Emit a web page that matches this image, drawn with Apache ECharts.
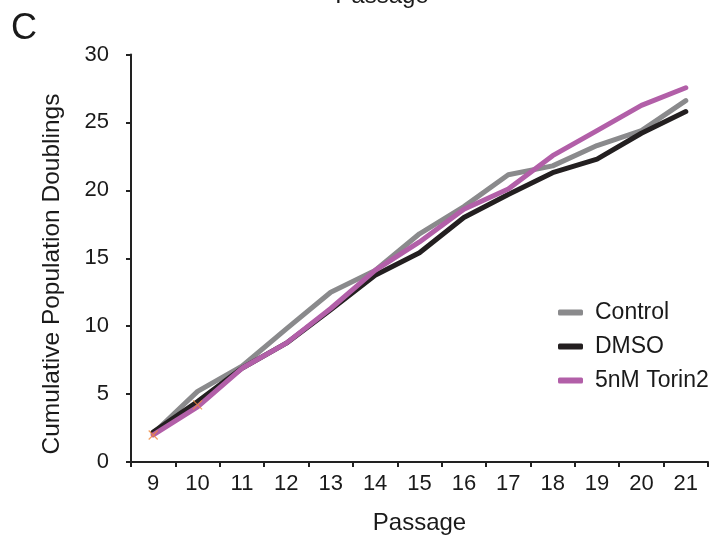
<!DOCTYPE html>
<html>
<head>
<meta charset="utf-8">
<script src="https://cdn.jsdelivr.net/npm/echarts@6/dist/echarts.min.js"></script>
<style>
html,body{margin:0;padding:0;background:#fff;}
#chart{width:713px;height:535px;}
</style>
</head>
<body>
<div id="chart"></div>
<script>
var passages = ['9','10','11','12','13','14','15','16','17','18','19','20','21'];
var control = [2.1, 5.2, 7.05, 9.8, 12.5, 14.1, 16.8, 18.8, 21.15, 21.8, 23.3, 24.4, 26.6];
var dmso    = [2.2, 4.45, 6.9, 8.75, 11.2, 13.75, 15.4, 18.0, 19.7, 21.3, 22.3, 24.2, 25.8];
var torin2  = [2.0, 4.05, 6.9, 8.75, 11.3, 14.1, 16.2, 18.6, 20.1, 22.55, 24.4, 26.25, 27.55];
var crossMarks = [1.99, 4.2, null, null, null, null, null, null, null, null, null, null, null];
var yTicks = [0, 5, 10, 15, 20, 25, 30];

var FONT = 'Liberation Sans, Arial, Helvetica, sans-serif';
var chart = echarts.init(document.getElementById('chart'));
chart.setOption({
  animation: false,
  backgroundColor: '#ffffff',
  grid: {left: 131, right: 5, top: 54.5, bottom: 73, containLabel: false, outerBoundsMode: 'none'},
  graphic: [
    {type: 'text', left: 11, top: 11, style: {text: 'C', font: '36px ' + FONT, fill: '#1a1a1a'}},
    {type: 'text', x: 382, y: -16, style: {text: 'Passage', font: '24px ' + FONT, fill: '#1a1a1a', textAlign: 'center', textVerticalAlign: 'top'}},
    {type: 'text', x: 52, y: 274, rotation: Math.PI / 2, style: {text: 'Cumulative Population Doublings', font: '24.5px ' + FONT, fill: '#1a1a1a', textAlign: 'center', textVerticalAlign: 'middle'}}
  ],
  legend: {
    orient: 'vertical',
    left: 558,
    top: 301,
    padding: 0,
    itemWidth: 25,
    itemHeight: 6,
    itemGap: 11,
    icon: 'roundRect',
    textStyle: {fontFamily: FONT, fontSize: 23, color: '#1a1a1a', padding: [0, 0, 0, 7]},
    data: ['Control', 'DMSO', '5nM Torin2']
  },
  xAxis: {
    type: 'category',
    data: passages,
    boundaryGap: true,
    name: 'Passage',
    nameLocation: 'middle',
    nameGap: 49,
    nameTextStyle: {fontFamily: FONT, fontSize: 24, color: '#1a1a1a'},
    axisLine: {lineStyle: {color: '#222', width: 2}},
    axisTick: {show: true, inside: false, length: 5, alignWithLabel: false, lineStyle: {color: '#222', width: 2}},
    axisLabel: {fontFamily: FONT, fontSize: 22, color: '#1a1a1a', margin: 11, interval: 0},
    splitLine: {show: false}
  },
  yAxis: {
    type: 'value',
    min: yTicks[0],
    max: yTicks[yTicks.length - 1],
    interval: 5,
    axisLine: {show: true, lineStyle: {color: '#222', width: 2}},
    axisTick: {show: true, inside: false, length: 5, lineStyle: {color: '#222', width: 2}},
    axisLabel: {fontFamily: FONT, fontSize: 22, color: '#1a1a1a', margin: 22},
    splitLine: {show: false}
  },
  series: [
    {name: 'Control', type: 'line', data: control, showSymbol: false, symbol: 'none',
     lineStyle: {color: '#8a8a8c', width: 5, cap: 'round', join: 'round'}, itemStyle: {color: '#8a8a8c'}},
    {name: 'DMSO', type: 'line', data: dmso, showSymbol: false, symbol: 'none',
     lineStyle: {color: '#231f20', width: 5, cap: 'round', join: 'round'}, itemStyle: {color: '#231f20'}},
    {name: '5nM Torin2', type: 'line', data: torin2, showSymbol: false, symbol: 'none',
     lineStyle: {color: '#b25fa8', width: 5, cap: 'round', join: 'round'}, itemStyle: {color: '#b25fa8'}},
    {name: 'marks', type: 'scatter', data: crossMarks, symbol: 'path://M0,0L10,10M10,0L0,10', symbolSize: 9,
     itemStyle: {color: 'none', borderColor: '#f0883a', borderWidth: 1.2}, z: 5}
  ]
});
</script>
</body>
</html>
